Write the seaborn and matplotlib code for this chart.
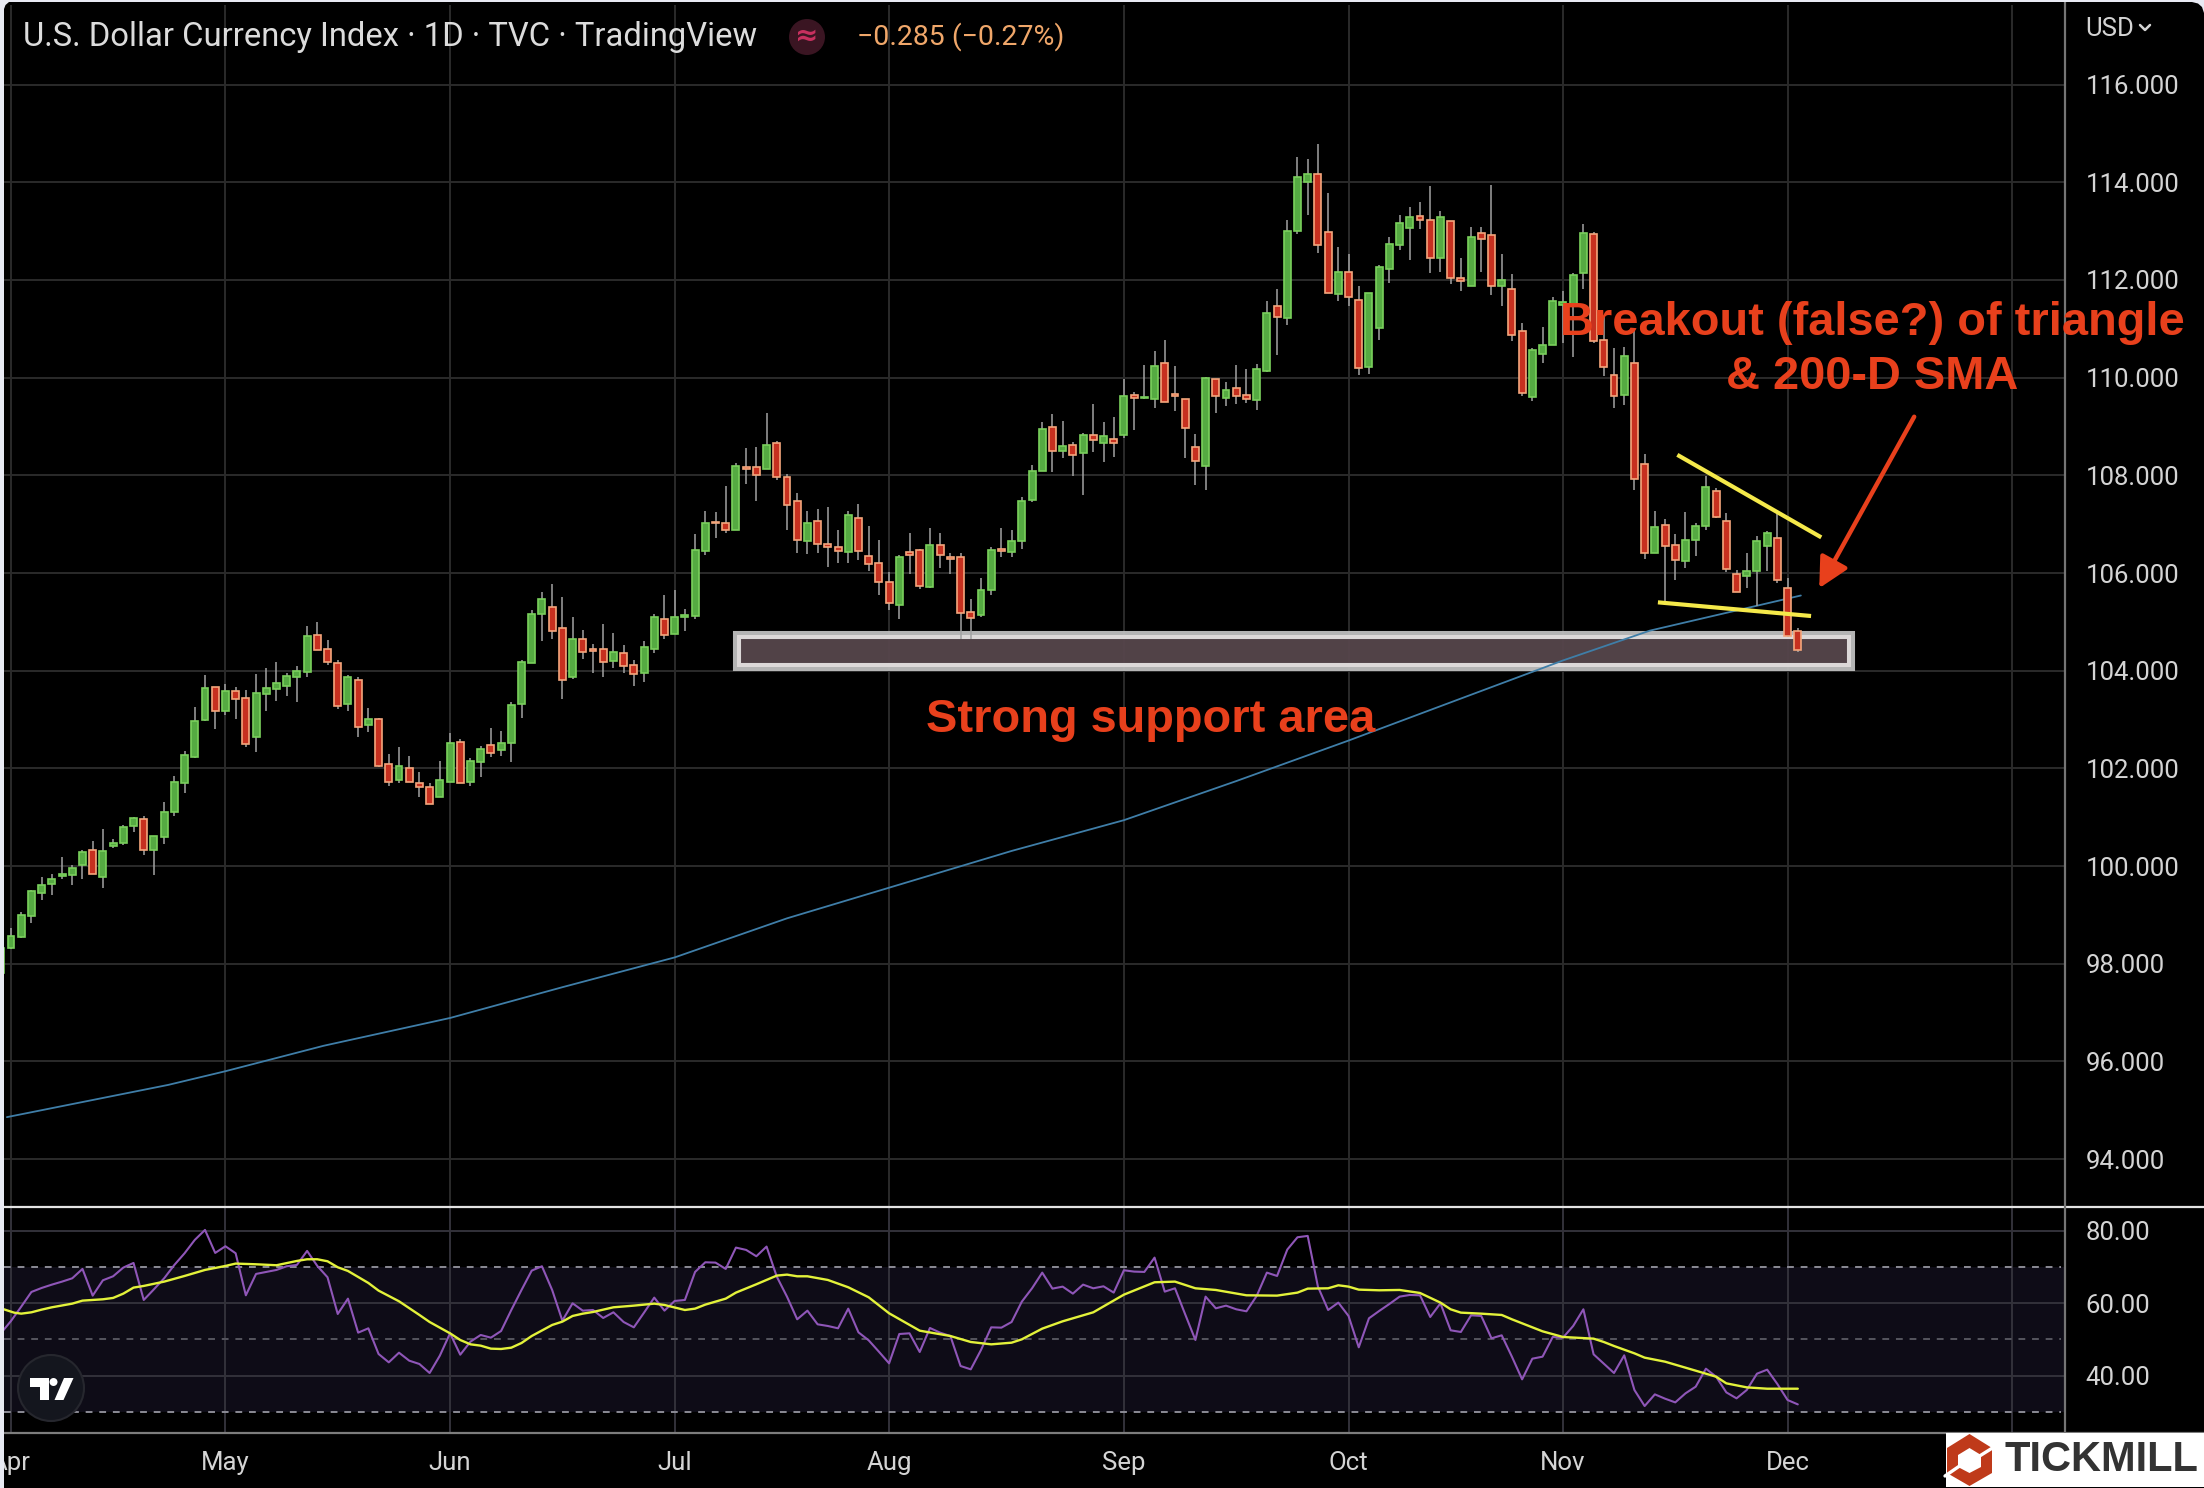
import matplotlib
matplotlib.use('Agg')
import matplotlib.pyplot as plt
from matplotlib.lines import Line2D
from matplotlib.patches import Rectangle, Ellipse, Polygon
import pandas as pd
import seaborn as sns

W, H = 2204, 1488

# weekday count from 1 Apr, one candle hangs off the left edge
days = list(range(-1, 176))

highs = [98.40,
    98.74,99.07,99.52,99.77,99.83,100.18,100.03,100.32,100.52,100.75,
    100.56,100.85,101.01,101.03,100.62,101.32,101.85,102.36,103.26,103.91,
    103.66,103.73,103.67,103.61,103.93,104.05,104.18,103.95,104.10,104.91,
    104.99,104.63,104.22,103.91,103.87,103.24,103.03,102.30,102.44,102.26,
    101.93,101.71,102.16,102.73,102.61,102.22,102.46,102.83,102.77,103.36,
    104.22,105.25,105.62,105.77,105.50,105.10,104.83,104.54,104.95,104.77,
    104.52,104.22,104.61,105.16,105.54,105.65,105.26,106.79,107.26,107.24,
    107.79,108.25,108.56,108.59,109.28,108.71,108.03,107.63,107.26,107.32,
    107.36,106.89,107.28,107.42,106.97,106.67,106.03,106.36,106.81,106.50,
    106.93,106.81,106.40,106.40,105.46,105.89,106.54,106.93,106.89,107.56,
    108.22,109.10,109.26,109.12,108.69,108.87,109.46,109.10,109.20,109.97,
    109.71,110.26,110.54,110.77,110.24,109.56,108.85,110.01,109.97,109.91,
    110.26,110.18,110.28,111.56,111.81,113.22,114.51,114.47,114.78,113.78,
    112.67,112.53,111.88,111.73,112.31,112.88,113.33,113.49,113.59,113.92,
    113.41,113.20,112.45,113.08,113.08,113.94,112.53,112.12,111.12,110.61,
    111.04,111.65,111.78,112.14,113.14,112.98,111.27,110.61,110.63,110.98,
    108.44,107.28,107.10,106.79,107.24,107.03,107.99,107.75,107.22,106.07,
    106.42,106.75,106.87,107.20,105.89,104.87]

body_tops = [98.33,
    98.56,98.99,99.48,99.62,99.74,99.83,99.97,100.29,100.33,100.31,
    100.48,100.80,100.99,100.97,100.62,101.11,101.72,102.27,102.97,103.64,
    103.66,103.58,103.58,103.44,103.54,103.64,103.74,103.90,103.99,104.72,
    104.74,104.44,104.15,103.88,103.80,103.01,103.01,102.09,102.05,102.01,
    101.70,101.62,101.76,102.52,102.54,102.15,102.39,102.48,102.52,103.29,
    104.17,105.17,105.46,105.31,104.88,104.64,104.64,104.44,104.44,104.39,
    104.37,104.12,104.48,105.09,105.05,105.11,105.15,106.48,107.03,107.05,
    107.03,108.19,108.17,108.17,108.62,108.66,107.97,107.48,107.03,107.07,
    106.59,106.54,107.19,107.13,106.35,106.21,105.82,106.33,106.44,106.48,
    106.58,106.58,106.33,106.33,105.21,105.66,106.48,106.50,106.66,107.48,
    108.09,108.95,108.99,108.60,108.62,108.82,108.82,108.80,108.74,109.62,
    109.64,109.61,110.23,110.29,109.66,109.56,108.58,109.99,109.97,109.74,
    109.78,109.64,110.17,111.33,111.46,113.01,114.10,114.18,114.18,112.99,
    112.16,112.16,111.59,111.73,112.26,112.73,113.16,113.28,113.30,113.22,
    113.28,113.20,112.05,112.89,112.97,112.93,111.99,111.81,110.95,110.57,
    110.67,111.56,111.54,112.10,112.97,112.95,110.77,110.05,110.44,110.30,
    108.23,106.95,106.99,106.57,106.68,106.97,107.76,107.68,107.07,105.99,
    106.05,106.66,106.82,106.72,105.69,104.82]

body_bots = [97.82,
    98.32,98.55,98.98,99.45,99.63,99.80,99.82,100.02,99.84,99.78,
    100.41,100.47,100.82,100.33,100.33,100.59,101.10,101.70,102.24,103.00,
    103.18,103.18,103.43,102.49,102.65,103.53,103.63,103.69,103.88,103.98,
    104.43,104.17,103.27,103.31,102.84,102.88,102.05,101.73,101.76,101.73,
    101.62,101.27,101.41,101.73,101.71,101.73,102.14,102.31,102.37,102.53,
    103.31,104.16,105.16,104.82,103.80,103.88,104.39,104.41,104.18,104.20,
    104.10,103.93,103.96,104.44,104.73,104.76,105.10,105.12,106.46,107.02,
    106.88,106.88,108.14,108.00,108.12,107.96,107.39,106.67,106.65,106.59,
    106.53,106.46,106.43,106.45,106.18,105.82,105.39,105.35,106.37,105.73,
    105.71,106.37,106.28,105.19,105.08,105.14,105.66,106.46,106.43,106.65,
    107.50,108.09,108.49,108.49,108.41,108.45,108.73,108.67,108.67,108.82,
    109.59,109.58,109.57,109.51,109.63,108.96,108.29,108.20,109.63,109.59,
    109.63,109.57,109.55,110.14,111.24,111.23,113.01,114.00,112.71,111.74,
    111.72,111.65,110.19,110.21,111.01,112.23,112.72,113.07,113.23,112.44,
    112.46,112.05,111.97,111.88,112.83,111.87,111.87,110.87,109.68,109.60,
    110.48,110.67,111.48,111.49,112.15,110.76,110.22,109.62,109.64,107.93,
    106.41,106.41,106.55,106.27,106.24,106.67,106.96,107.14,106.09,105.62,
    105.94,106.04,106.55,105.85,104.71,104.43]

lows = [97.75,
    98.30,98.52,98.83,99.30,99.40,99.73,99.61,99.73,99.84,99.56,
    100.38,100.44,100.69,100.22,99.81,100.46,101.03,101.50,102.22,102.97,
    102.81,103.10,103.01,102.44,102.34,103.18,103.38,103.48,103.36,103.87,
    104.43,104.12,103.22,103.18,102.65,102.75,102.03,101.63,101.71,101.73,
    101.42,101.27,101.41,101.73,101.71,101.63,101.83,102.24,102.26,102.14,
    103.03,104.16,104.61,104.65,103.42,103.83,104.24,103.95,103.87,104.05,
    103.95,103.69,103.77,104.36,104.65,104.76,104.81,105.05,106.36,106.71,
    106.81,106.88,107.83,107.48,108.12,107.91,106.89,106.40,106.38,106.42,
    106.12,106.20,106.20,106.26,106.05,105.54,105.24,105.05,105.97,105.67,
    105.69,106.10,105.97,104.65,104.65,105.10,105.54,106.32,106.32,106.50,
    107.46,108.09,108.07,108.36,107.99,107.59,108.48,108.28,108.38,108.77,
    108.93,109.56,109.38,109.51,109.32,108.36,107.81,107.69,109.28,109.42,
    109.46,109.48,109.34,110.12,110.46,111.08,112.94,113.33,112.55,111.74,
    111.57,111.47,110.06,110.08,110.78,111.94,112.61,112.41,113.04,112.14,
    112.16,111.92,111.78,111.88,112.16,111.69,111.47,110.76,109.63,109.53,
    110.29,110.67,110.71,110.43,111.82,110.71,110.04,109.37,109.45,107.71,
    106.28,106.41,105.34,105.85,106.10,106.34,106.89,107.12,106.03,105.62,
    105.69,105.32,106.05,105.79,104.69,104.39]

# G closes up, R closes down
direction = ("GGGGGGGGGRGGGGRGGGGGGRGRRGGGGGGRRRGRGRRGRRRGGRGGRGGGGGRRGRRRGRRGGRGGGGRRGRRGRRRGRRRGRRRRGRRGRRRR"
             "GGRGGGGRGRGRGRGRGGRRRRGRGRRGGRGGGRRGRRGGGGGRRGRRGRRGRRGGGGGGRRRGRRGRRGGGRRRGGGRRR")

rsi = [51.68,
    55.08,59.03,63.08,64.18,65.10,65.93,66.85,69.43,62.07,66.30,
    67.40,69.80,71.08,60.87,63.82,66.85,70.53,73.75,77.43,80.18,
    73.84,75.68,73.75,62.16,68.05,68.60,69.15,70.16,70.53,74.39,
    70.25,67.13,57.01,61.24,51.86,53.06,45.98,43.68,46.34,44.14,
    43.22,40.74,45.52,51.68,45.79,49.38,51.22,50.48,52.32,58.11,
    63.63,68.97,70.16,63.63,55.17,59.95,57.93,58.11,55.91,57.47,
    54.80,53.33,57.38,61.52,57.93,60.60,60.87,68.60,71.26,71.17,
    69.43,75.31,74.67,72.92,75.59,67.31,61.79,55.54,57.93,54.16,
    53.70,53.06,58.48,51.95,49.75,46.62,43.40,51.49,51.68,46.53,
    53.15,51.86,50.94,42.67,41.75,47.08,53.33,53.24,54.80,60.41,
    64.09,68.41,64.00,64.55,62.62,65.10,64.09,64.64,62.90,69.06,
    68.69,68.60,72.55,63.17,64.09,56.92,49.84,61.79,58.57,59.31,
    58.30,57.75,61.98,68.41,67.49,74.76,78.16,78.53,64.55,58.11,
    60.14,56.46,47.82,55.82,57.84,59.77,61.79,62.25,62.16,56.18,
    59.95,52.51,52.05,56.64,56.46,50.30,51.13,45.24,38.99,44.69,
    45.24,50.67,50.48,53.70,58.30,45.89,43.31,40.74,45.61,36.05,
    31.63,34.85,33.66,32.64,35.13,36.97,41.93,39.72,35.40,33.75,
    36.05,40.55,41.66,37.70,33.29,32.09]

rsi_ma_days = [-0.7,0.3,1,2,3,4,6,7,9,10,11,12,13,15,17,19,21,22,24,26,28,29,30,31,32,33,35,36,38,40,41,43,44,45,46,47,48,49,
    50,51,53,54,55,56,57,59,61,63,64,66,67,68,70,71,73,75,76,77,78,80,82,84,86,89,92,94,96,98,99,101,103,106,109,112,114,116,
    118,121,124,126,127,129,130,131,132,134,136,138,140,141,142,144,146,147,150,152,155,156,157,159,160,162,165,167,168,170,172,175]
rsi_ma = [58.30,57.38,57.10,57.47,58.21,58.85,59.86,60.69,61.06,61.43,62.62,64.28,64.74,65.93,67.49,69.15,70.25,70.90,70.71,70.44,
    71.63,72.09,72.09,71.54,69.89,68.87,65.56,63.45,60.51,56.74,54.80,51.68,49.84,48.64,48.28,47.45,47.36,47.72,
    49.01,50.94,53.98,54.90,56.46,57.10,57.56,58.85,59.31,59.86,59.49,58.11,58.48,59.59,61.24,62.90,65.20,67.59,67.86,67.40,67.40,
    66.39,64.37,61.61,57.20,52.41,50.94,49.29,48.64,49.10,50.02,52.97,54.99,57.47,62.34,65.75,65.93,64.09,
    63.63,62.16,62.07,62.90,64.00,64.09,64.92,64.55,63.72,63.54,63.63,62.80,60.14,58.30,57.38,57.10,56.74,55.54,52.23,50.67,50.21,
    49.29,48.18,46.16,44.97,43.86,41.38,39.72,37.89,36.78,36.41,36.41]

sma_days = [-0.4,15.4,21,30.6,43,54,65,76,87,98,109,120,131,142,152,160.5,175.3]
sma_200 = [94.86,95.52,95.80,96.32,96.89,97.52,98.13,98.93,99.62,100.31,100.94,101.74,102.57,103.43,104.21,104.82,105.54]

price_ticks = [94,96,98,100,102,104,106,108,110,112,114,116]
rsi_ticks = [40,60,80]
month_days = [0,21,43,65,86,109,131,152,174,196]
month_labels = ['Apr','May','Jun','Jul','Aug','Sep','Oct','Nov','Dec','']

tri_upper_days, tri_upper = [163.2,177.3], [108.42,106.73]
tri_lower_days, tri_lower = [161.3,176.3], [105.40,105.12]
support_days = [71.06,180.2]
support_prices = [104.08,104.73]

dat = pd.DataFrame({'day':days,'high':highs,'top':body_tops,'bot':body_bots,'low':lows,'dir':list(direction)})

sns.set_theme(style='dark', rc={'axes.facecolor':'none','figure.facecolor':'black'})
plt.rcParams['font.family'] = ['Roboto','DejaVu Sans']
plt.rcParams['axes.unicode_minus'] = False

def fx(x): return x/W
def fy(y): return 1-y/H

fig = plt.figure(figsize=(W/100,H/100), dpi=100)
ax = fig.add_axes([fx(4),fy(1207),fx(2061),(1207-5)/H])
ax2 = fig.add_axes([fx(4),fy(1433),fx(2061),226/H])

GRID = '#2b2b2b'
LABEL = '#d4d4d4'
for a in (ax,ax2):
    a.set_xlim(-0.686,201.17)
    a.set_xticks(month_days)
    a.yaxis.tick_right()
    a.set_axisbelow(True)
    for s in a.spines.values():
        s.set_visible(False)

ax.set_ylim(93.02,117.63)
ax.set_yticks(price_ticks)
ax.set_yticklabels([f'{v:.3f}' for v in price_ticks])
ax.grid(True,color=GRID,lw=1.4)
ax.tick_params(axis='x',length=0,labelbottom=False)
ax.tick_params(axis='y',length=0,labelsize=18.5,labelcolor=LABEL,pad=15)

# support box, sits under the candles
ax.add_patch(Rectangle((support_days[0],support_prices[0]),support_days[1]-support_days[0],
    support_prices[1]-support_prices[0],facecolor='#55454b',edgecolor='#bdbdbd',lw=5.8,alpha=0.96,zorder=1.5))
ax.add_patch(Rectangle((support_days[0]+0.2,support_prices[0]+0.04),support_days[1]-support_days[0]-0.4,
    support_prices[1]-support_prices[0]-0.08,facecolor='none',edgecolor='#dcd8d8',lw=2.9,zorder=1.6))

sns.lineplot(x=sma_days,y=sma_200,ax=ax,color='#3f7ea8',linewidth=1.3,estimator=None,errorbar=None,legend=False,zorder=2)

ax.vlines(dat['day'],dat['low'],dat['high'],color='#a2a2a2',lw=1.1,zorder=3)
up = dat[dat['dir']=='G']
down = dat[dat['dir']=='R']
ax.bar(up['day'],up['top']-up['bot'],bottom=up['bot'],width=0.68,color='#55aa42',edgecolor='#7ad05c',lw=1.2,zorder=4)
ax.bar(down['day'],down['top']-down['bot'],bottom=down['bot'],width=0.68,color='#c6301f',edgecolor='#f4a67c',lw=1.2,zorder=4)

ax.plot(tri_upper_days,tri_upper,color='#f5e94a',lw=3,solid_capstyle='butt',zorder=5)
ax.plot(tri_lower_days,tri_lower,color='#f5e94a',lw=3,solid_capstyle='butt',zorder=5)
ax.annotate('',xy=(177.1,105.69),xytext=(186.4,109.2),zorder=6,
    arrowprops=dict(arrowstyle='-|>,head_length=0.7,head_width=0.36',color='#e8401c',lw=3.2,mutation_scale=26,shrinkA=0,shrinkB=0))
ax.set_xlabel(''); ax.set_ylabel('')

ax2.set_ylim(24.2,86.5)
ax2.set_yticks(rsi_ticks)
ax2.set_yticklabels([f'{v:.2f}' for v in rsi_ticks])
ax2.grid(True,color='#33323a',lw=1.4)
ax2.tick_params(axis='x',length=0,labelsize=18.5,labelcolor=LABEL,pad=13)
ax2.tick_params(axis='y',length=0,labelsize=18.5,labelcolor=LABEL,pad=15)
ax2.set_xticklabels(month_labels)
ax2.axhspan(30,70,color='#0e0c17',lw=0,zorder=0.5)
ax2.hlines([70,30],-0.686,200.8,color='#8b8b95',lw=1.4,linestyles=(0,(3.5,3.5)),zorder=1)
ax2.hlines([50],-0.686,200.8,color='#55555e',lw=1.4,linestyles=(0,(3.5,3.5)),zorder=1)
sns.lineplot(x=days,y=rsi,ax=ax2,color='#8f56b8',linewidth=1.5,estimator=None,errorbar=None,legend=False,zorder=3)
sns.lineplot(x=rsi_ma_days,y=rsi_ma,ax=ax2,color='#e3f23a',linewidth=1.7,estimator=None,errorbar=None,legend=False,zorder=4)
ax2.set_xlabel(''); ax2.set_ylabel('')

# pane separators and price scale line
fig.add_artist(Line2D([fx(4),1],[fy(1207),fy(1207)],color='#e4e4e4',lw=1.6))
fig.add_artist(Line2D([fx(4),1],[fy(1433),fy(1433)],color='#7d7d7d',lw=1.6))
fig.add_artist(Line2D([fx(2065),fx(2065)],[fy(1433),fy(2)],color='#757575',lw=1.6))

# header
fig.text(fx(23),fy(37),'U.S. Dollar Currency Index · 1D · TVC · TradingView',color='#dcdcdc',fontsize=23.6,va='center',ha='left')
fig.text(fx(857),fy(37),'−0.285 (−0.27%)',color='#f0a76a',fontsize=20.5,va='center',ha='left')
fig.add_artist(Ellipse((fx(807),fy(37)),36/W,36/H,facecolor='#3a1522',edgecolor='none',transform=fig.transFigure))
fig.text(fx(807),fy(36),'≈',color='#c7305f',fontsize=20,va='center',ha='center',family='DejaVu Sans',fontweight='bold')
fig.text(fx(2085),fy(29),'USD',color=LABEL,fontsize=18.5,va='center',ha='left')
fig.add_artist(Line2D([fx(2140),fx(2145),fx(2150)],[fy(25),fy(30),fy(25)],color=LABEL,lw=1.8))

# chart notes
RED = '#e8401c'
fig.text(fx(1872),fy(323),'Breakout (false?) of triangle',color=RED,fontsize=33.8,fontweight='bold',family='Liberation Sans',va='center',ha='center')
fig.text(fx(1872),fy(377),'& 200-D SMA',color=RED,fontsize=33.8,fontweight='bold',family='Liberation Sans',va='center',ha='center')
fig.text(fx(1151),fy(720),'Strong support area',color=RED,fontsize=33.8,fontweight='bold',family='Liberation Sans',va='center',ha='center')

# tradingview badge
fig.add_artist(Ellipse((fx(51),fy(1388)),66/W,66/H,facecolor='#14161e',edgecolor='#26272e',lw=1.5,transform=fig.transFigure))
def fpoly(pts,color,z=6):
    fig.add_artist(Polygon([(fx(x),fy(y)) for x,y in pts],closed=True,facecolor=color,edgecolor='none',transform=fig.transFigure,zorder=z))
fpoly([(30,1378),(49,1378),(49,1400),(40,1400),(40,1387),(30,1387)],'white')
fpoly([(64,1378),(73.5,1378),(63.5,1400),(54.5,1400)],'white')
fig.add_artist(Ellipse((fx(53.5),fy(1382)),8/W,8/H,facecolor='white',edgecolor='none',transform=fig.transFigure,zorder=6))

# tickmill box
fig.add_artist(Rectangle((fx(1946),fy(1487)),258/W,54/H,facecolor='white',edgecolor='none',transform=fig.transFigure,zorder=7))
BRICK = '#bf3a1a'
fpoly([(1969.5,1434),(1992,1448),(1992,1473),(1969.5,1486),(1947,1473),(1947,1448)],BRICK,8)
fpoly([(1969.5,1448),(1981,1455),(1981,1467),(1969.5,1473),(1958,1467),(1958,1455)],'white',9)
fig.add_artist(Line2D([fx(1978),fx(1994)],[fy(1457),fy(1447)],color='white',lw=2.4,zorder=9))
fig.add_artist(Line2D([fx(1945),fx(1961)],[fy(1476),fy(1465)],color='white',lw=2.4,zorder=9))
fig.text(fx(2005),fy(1460),'TICKMILL',color='#333333',fontsize=30,fontweight='bold',family='Liberation Sans',va='center',ha='left',zorder=10)

# page background showing at the left and top edge, with the rounded top right corner
fig.add_artist(Rectangle((0,0),fx(4),1,facecolor='#e8eaf3',edgecolor='none',transform=fig.transFigure,zorder=12))
fig.add_artist(Rectangle((0,fy(2)),1,2/H,facecolor='#e8eaf3',edgecolor='none',transform=fig.transFigure,zorder=12))
fpoly([(2192,2),(2198,3.5),(2202,7),(2204,13),(2204,0),(2192,0)],'#e8eaf3',12)
fpoly([(4,9),(5.5,5),(9,2),(4,2)],'#e8eaf3',12)

plt.savefig('out.png',dpi=100)
